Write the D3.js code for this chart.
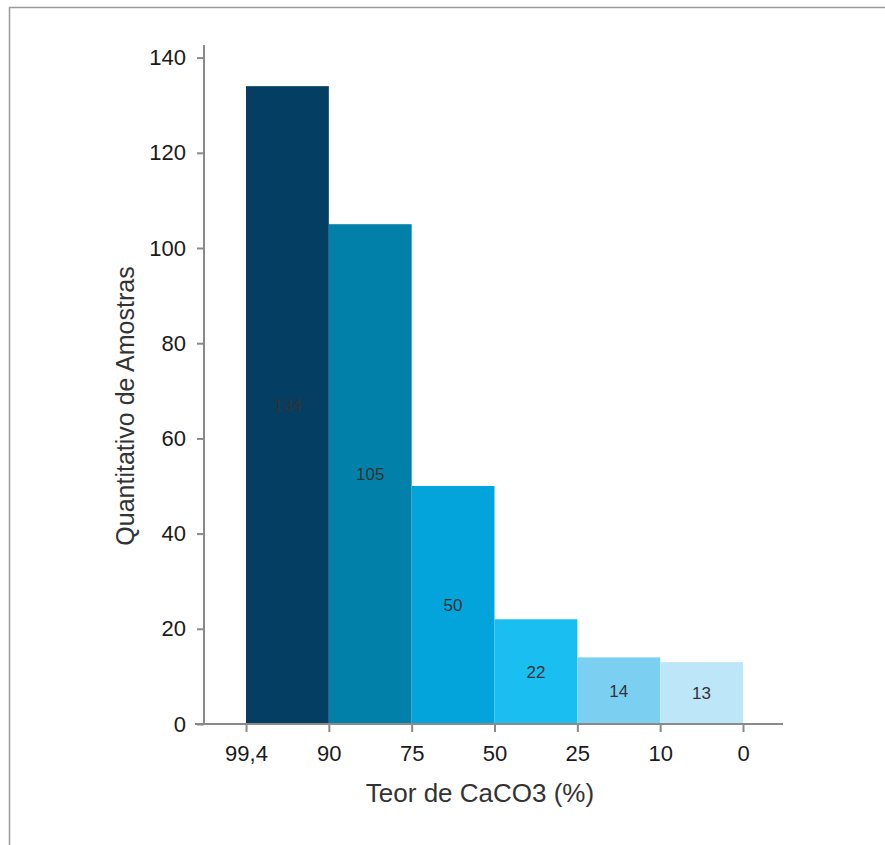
<!DOCTYPE html>
<html>
<head>
<meta charset="utf-8">
<script src="https://cdn.jsdelivr.net/npm/d3@7"></script>
<style>
  body { margin: 0; background: #fff; }
  svg { display: block; font-family: "Liberation Sans", Arial, sans-serif; }
</style>
</head>
<body>
<div id="chart"></div>
<script>
// bin edges (CaCO3 %) and sample counts per bin
const edges = ["99,4", "90", "75", "50", "25", "10", "0"];
const counts = [134, 105, 50, 22, 14, 13];
const colors = ["#043f63", "#0181a9", "#03a4dc", "#1abef0", "#7bd0f2", "#bde6f8"];
const yTicks = [0, 20, 40, 60, 80, 100, 120, 140];

const width = 885, height = 845;

const svg = d3.select("#chart")
  .append("svg")
  .attr("width", width)
  .attr("height", height);

// frame line around the figure
svg.append("path")
  .attr("d", `M9.5,${height} V7.5 H${width}`)
  .attr("fill", "none")
  .attr("stroke", "#9a9a9a")
  .attr("stroke-width", 1.5);

// x scale: evenly spaced edges
const x = d3.scalePoint()
  .domain(edges)
  .range([246, 743]);

const y = d3.scaleLinear()
  .domain([0, 140])
  .range([724, 57.6]);

const bins = counts.map((c, i) => ({ from: edges[i], to: edges[i + 1], value: c, color: colors[i] }));

// bars
svg.selectAll("rect.bar")
  .data(bins)
  .enter()
  .append("rect")
  .attr("class", "bar")
  .attr("x", d => x(d.from))
  .attr("width", d => x(d.to) - x(d.from))
  .attr("y", d => y(d.value))
  .attr("height", d => y(0) - y(d.value))
  .attr("fill", d => d.color);

// value labels in middle of each bar
svg.selectAll("text.val")
  .data(bins)
  .enter()
  .append("text")
  .attr("class", "val")
  .attr("x", d => (x(d.from) + x(d.to)) / 2)
  .attr("y", d => (y(0) + y(d.value)) / 2)
  .attr("dy", "0.35em")
  .attr("text-anchor", "middle")
  .attr("font-size", 17)
  .attr("fill", "#333")
  .text(d => d.value);

// Y axis
const yAxis = svg.append("g")
  .attr("transform", "translate(204,0)")
  .call(d3.axisLeft(y).tickValues(yTicks).tickSize(7).tickPadding(11).tickSizeOuter(0));
yAxis.select(".domain").attr("d", `M0,45V${y(0)}`);

// X axis
const xAxis = svg.append("g")
  .attr("transform", `translate(0,${y(0)})`)
  .call(d3.axisBottom(x).tickSize(8).tickPadding(13).tickSizeOuter(0));
xAxis.select(".domain").attr("d", "M195,0H783");

svg.selectAll(".tick text")
  .attr("font-size", 22)
  .attr("fill", "#1a1a1a");
svg.selectAll(".domain, .tick line")
  .attr("stroke", "#8a8a8a")
  .attr("stroke-width", 2);

// axis titles
svg.append("text")
  .attr("x", 480)
  .attr("y", 802)
  .attr("text-anchor", "middle")
  .attr("font-size", 26)
  .attr("fill", "#333")
  .text("Teor de CaCO3 (%)");

svg.append("text")
  .attr("transform", "translate(134,406) rotate(-90)")
  .attr("text-anchor", "middle")
  .attr("font-size", 25)
  .attr("fill", "#333")
  .text("Quantitativo de Amostras");
</script>
</body>
</html>
